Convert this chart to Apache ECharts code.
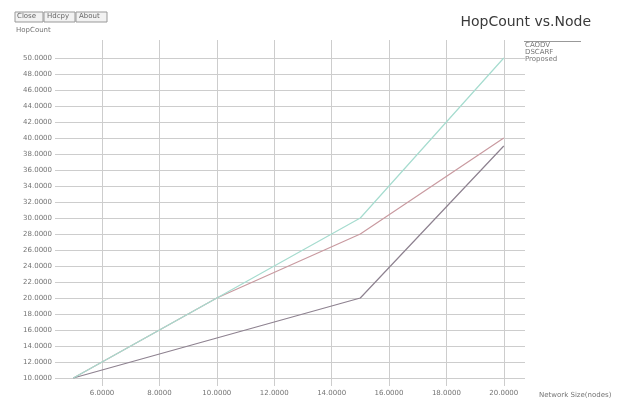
<!DOCTYPE html>
<html>
<head>
<meta charset="utf-8">
<script src="https://cdn.jsdelivr.net/npm/echarts@6/dist/echarts.min.js"></script>
<style>
  html, body { margin: 0; padding: 0; background: #fff; }
  #chart { width: 620px; height: 404px; }
</style>
</head>
<body>
<div id="chart"></div>
<script>
// Network size (nodes) on the x axis
const nodes = [5, 10, 15, 20];
// Hop count per protocol
const caodv = [10, 20, 30, 50];
const dscarf = [10, 20, 28, 40];
const proposed = [10, 15, 20, 39];
const seriesNames = ['CAODV', 'DSCARF', 'Proposed'];
// Tick labels
const xTicks = [6, 8, 10, 12, 14, 16, 18, 20];
const yTicks = [10, 12, 14, 16, 18, 20, 22, 24, 26, 28, 30, 32, 34, 36, 38, 40, 42, 44, 46, 48, 50];

const colors = ['#a6dccf', '#c99aa0', '#8e8290'];
const textGrey = '#747474';
const gridGrey = '#cdcdcd';

const pairs = (ys) => nodes.map((x, i) => [x, ys[i]]);
const fmt = (v) => v.toFixed(4);

const chart = echarts.init(document.getElementById('chart'), null, { renderer: 'canvas' });
chart.setOption({
  animation: false,
  backgroundColor: '#ffffff',
  textStyle: { fontFamily: 'DejaVu Sans' },
  grid: { left: 55, right: 95, top: 40, bottom: 18, containLabel: false },
  title: {
    text: 'HopCount vs.Node',
    right: 24, top: 10,
    textStyle: { fontSize: 14, fontWeight: 'normal', color: '#3a3a3a', fontFamily: 'DejaVu Sans' }
  },
  legend: {
    orient: 'vertical',
    left: 523, top: 42,
    itemGap: 0,
    itemWidth: 0, itemHeight: 0,
    padding: 0,
    data: seriesNames,
    textStyle: { fontSize: 7, color: '#777', padding: [0, 0, 0, -4] }
  },
  xAxis: {
    type: 'value',
    min: 4.36, max: 20.74,
    name: 'Network Size(nodes)',
    nameLocation: 'end',
    nameGap: 14,
    nameTextStyle: { fontSize: 7, color: textGrey, verticalAlign: 'top', padding: [6, 0, 0, 0] },
    axisLine: { show: false },
    axisTick: { show: false, customValues: xTicks },
    axisLabel: { customValues: xTicks, formatter: fmt, fontSize: 7, color: textGrey, margin: 4 },
    splitLine: { show: true, lineStyle: { color: gridGrey, width: 1 } }
  },
  yAxis: {
    type: 'value',
    min: 9.0, max: 52.25,
    name: 'HopCount',
    nameLocation: 'end',
    nameGap: 6,
    nameTextStyle: { fontSize: 7, color: textGrey, align: 'left', padding: [0, 0, 0, -39] },
    axisLine: { show: false },
    axisTick: { show: false, customValues: yTicks },
    axisLabel: { customValues: yTicks, formatter: fmt, fontSize: 7, color: textGrey, margin: 3 },
    splitLine: { show: true, lineStyle: { color: gridGrey, width: 1 } }
  },
  series: [
    { name: seriesNames[0], type: 'line', data: pairs(caodv), color: colors[0], symbol: 'none',
      lineStyle: { width: 1.2 }, z: 3 },
    { name: seriesNames[1], type: 'line', data: pairs(dscarf), color: colors[1], symbol: 'none',
      lineStyle: { width: 1.2 }, z: 2 },
    { name: seriesNames[2], type: 'line', data: pairs(proposed), color: colors[2], symbol: 'none',
      lineStyle: { width: 1.2 }, z: 2 }
  ],
  graphic: [
    // window buttons in the top-left corner
    { type: 'rect', shape: { x: 15, y: 12, width: 28, height: 10 }, style: { fill: '#f2f2f2', stroke: '#999', lineWidth: 1 } },
    { type: 'rect', shape: { x: 44, y: 12, width: 31, height: 10 }, style: { fill: '#f2f2f2', stroke: '#999', lineWidth: 1 } },
    { type: 'rect', shape: { x: 76, y: 12, width: 31, height: 10 }, style: { fill: '#f2f2f2', stroke: '#999', lineWidth: 1 } },
    { type: 'text', left: 17, top: 13, style: { text: 'Close', fontSize: 7, fill: '#666', fontFamily: 'DejaVu Sans' } },
    { type: 'text', left: 47, top: 13, style: { text: 'Hdcpy', fontSize: 7, fill: '#666', fontFamily: 'DejaVu Sans' } },
    { type: 'text', left: 79, top: 13, style: { text: 'About', fontSize: 7, fill: '#666', fontFamily: 'DejaVu Sans' } },
    // rule above the legend
    { type: 'line', shape: { x1: 524, y1: 41.5, x2: 581, y2: 41.5 }, style: { stroke: '#999', lineWidth: 1 } }
  ]
});
</script>
</body>
</html>
